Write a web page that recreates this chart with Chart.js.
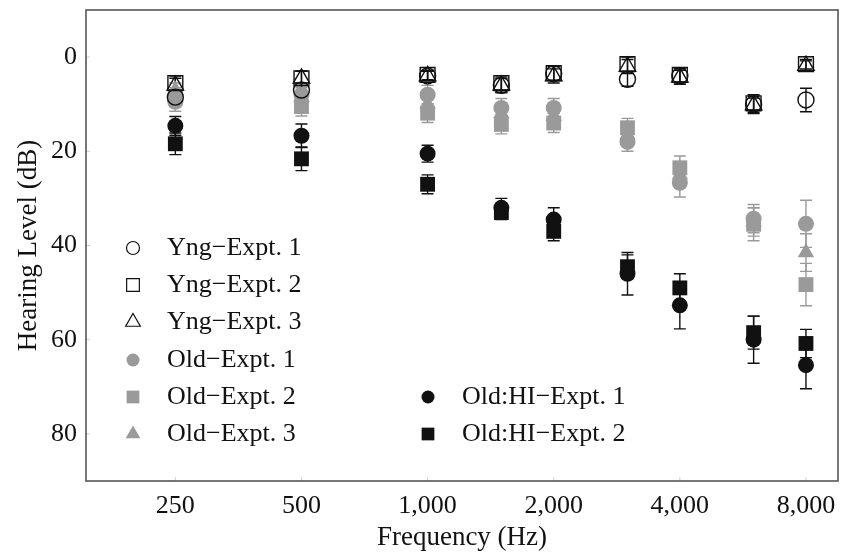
<!DOCTYPE html>
<html>
<head>
<meta charset="utf-8">
<script src="https://cdn.jsdelivr.net/npm/chart.js@4.4.1/dist/chart.umd.min.js"></script>
<style>
  html, body { margin: 0; padding: 0; background: #fff; }
  #wrap { width: 842px; height: 555px; }
</style>
</head>
<body>
<div id="wrap"><canvas id="hlChart" width="842" height="555"></canvas></div>
<script>
// frequencies (Hz) and tick labels
const freqs = [250, 500, 1000, 1500, 2000, 3000, 4000, 6000, 8000];
const xTickVals = [250, 500, 1000, 2000, 4000, 8000];
const yTickVals = [0, 20, 40, 60, 80];

// mean hearing levels (dB HL)
const yng1 = [8.5, 7, 4, 6, 3.5, 4.7, 4, 10, 9.1];
const yng2 = [5.5, 4.5, 3.8, 5.5, 3.4, 1.5, 3.8, 9.8, 1.5];
const yng3 = [6, 4.5, 4, 6, 4, 2, 4.3, 10.2, 1.8];
const old1 = [9.5, 8, 8, 10.8, 10.8, 18, 26.7, 34.3, 35.4];
const old2 = [8.5, 10.5, 11.9, 14.3, 14, 15, 23.5, 35.5, 48.3];
const old3 = [7, 8.5, 10, 12, 12.5, 16.5, 25, 35, 41.5];
const hi1 = [14.6, 16.7, 20.5, 32, 34.5, 46, 52.7, 60, 65.4];
const hi2 = [18.4, 21.6, 27, 33, 37, 44.5, 49, 58.5, 60.8];

// error bar half-lengths (dB)
const errYng1 = [1.5, 1.5, 1, 1.5, 1.5, 1.5, 1.5, 2, 2.5];
const errYng2 = [1.5, 1.5, 1, 1.5, 1.5, 1.5, 1.5, 1.5, 1];
const errYng3 = [1.5, 1.5, 1, 1.5, 1.5, 1.5, 1.5, 1.5, 1];
const errOld1 = [2, 2, 2, 2, 2, 2, 3, 3, 5];
const errOld2 = [2, 2, 2, 2, 2, 2, 2.5, 3.5, 4.5];
const errOld3 = [1.5, 2, 2, 2, 2, 2, 2.5, 3, 4];
const errHi1 = [2, 2.5, 1.8, 2, 2.5, 4.5, 5, 5, 5];
const errHi2 = [2.3, 2.5, 2, 1.5, 2, 2.5, 3, 3.5, 3];

const GRAY = '#9a9a9a';
const BLACK = '#111111';
const SERIF = '"Liberation Serif", "Times New Roman", serif';

function pts(vals) {
    return freqs.map(function(f, i) { return { x: f, y: vals[i] }; });
}

function series(label, vals, errs, style, color, open) {
    const radius = style === 'rect' ? 10.5 : (style === 'triangle' ? 9.5 : 8);
    return {
        label: label,
        data: pts(vals),
        errors: errs,
        pointStyle: style,
        pointRadius: radius,
        pointHoverRadius: radius,
        pointBackgroundColor: open ? 'rgba(0,0,0,0)' : color,
        pointBorderColor: color,
        pointBorderWidth: open ? 1.4 : 0,
        borderColor: color,
        backgroundColor: color,
        showLine: false,
        open: open
    };
}

// error bars, drawn under the markers
const errorBars = {
    id: 'errorBars',
    beforeDatasetsDraw(chart) {
        const ctx = chart.ctx;
        const xs = chart.scales.x, ys = chart.scales.y;
        ctx.save();
        chart.data.datasets.slice().reverse().forEach(function(ds) {
            ctx.strokeStyle = ds.borderColor;
            ctx.lineWidth = 1.4;
            ds.data.forEach(function(p, i) {
                const e = ds.errors[i];
                const px = xs.getPixelForValue(p.x);
                const y1 = ys.getPixelForValue(p.y - e);
                const y2 = ys.getPixelForValue(p.y + e);
                ctx.beginPath();
                ctx.moveTo(px, y1); ctx.lineTo(px, y2);
                ctx.moveTo(px - 6, y1); ctx.lineTo(px + 6, y1);
                ctx.moveTo(px - 6, y2); ctx.lineTo(px + 6, y2);
                ctx.stroke();
            });
        });
        ctx.restore();
    }
};

// box round the plot area plus small inward ticks
const frameBox = {
    id: 'frameBox',
    afterDraw(chart) {
        const a = chart.chartArea;
        const ctx = chart.ctx;
        ctx.save();
        ctx.strokeStyle = '#cfcfcf';
        ctx.lineWidth = 1;
        xTickVals.forEach(function(v) {
            const px = chart.scales.x.getPixelForValue(v);
            ctx.beginPath(); ctx.moveTo(px, a.bottom); ctx.lineTo(px, a.bottom - 4); ctx.stroke();
        });
        yTickVals.forEach(function(v) {
            const py = chart.scales.y.getPixelForValue(v);
            ctx.beginPath(); ctx.moveTo(a.left, py); ctx.lineTo(a.left + 4, py); ctx.stroke();
        });
        ctx.strokeStyle = '#555';
        ctx.lineWidth = 1.6;
        ctx.strokeRect(a.left, a.top, a.right - a.left, a.bottom - a.top);
        ctx.restore();
    }
};

// legend inside the plot, two columns like the figure
const legendBox = {
    id: 'legendBox',
    afterDraw(chart) {
        const ctx = chart.ctx;
        const entries = [
            { ds: 0, x: 133, y: 248 }, { ds: 1, x: 133, y: 285 }, { ds: 2, x: 133, y: 322 },
            { ds: 3, x: 133, y: 360 }, { ds: 4, x: 133, y: 397 }, { ds: 5, x: 133, y: 434 },
            { ds: 6, x: 428, y: 397 }, { ds: 7, x: 428, y: 434 }
        ];
        ctx.save();
        entries.forEach(function(en) {
            const ds = chart.data.datasets[en.ds];
            const r = ds.pointStyle === 'rect' ? 9 : (ds.pointStyle === 'triangle' ? 8.5 : 6.5);
            ctx.fillStyle = ds.pointBackgroundColor;
            ctx.strokeStyle = ds.pointBorderColor;
            ctx.lineWidth = 1.2;
            ctx.beginPath();
            if (ds.pointStyle === 'circle') {
                ctx.arc(en.x, en.y, r, 0, Math.PI * 2);
            } else if (ds.pointStyle === 'rect') {
                const s = r * Math.SQRT1_2;
                ctx.rect(en.x - s, en.y - s, 2 * s, 2 * s);
            } else {
                ctx.moveTo(en.x, en.y - r);
                ctx.lineTo(en.x + r * 0.866, en.y + r * 0.5);
                ctx.lineTo(en.x - r * 0.866, en.y + r * 0.5);
                ctx.closePath();
            }
            if (ds.open) ctx.stroke(); else ctx.fill();
            ctx.fillStyle = '#111';
            ctx.font = '26px ' + SERIF;
            ctx.textBaseline = 'middle';
            ctx.fillText(ds.label, en.x + 34, en.y);
        });
        ctx.restore();
    }
};

new Chart(document.getElementById('hlChart'), {
    type: 'scatter',
    data: {
        datasets: [
            series('Yng\u2212Expt. 1', yng1, errYng1, 'circle', BLACK, true),
            series('Yng\u2212Expt. 2', yng2, errYng2, 'rect', BLACK, true),
            series('Yng\u2212Expt. 3', yng3, errYng3, 'triangle', BLACK, true),
            series('Old\u2212Expt. 1', old1, errOld1, 'circle', GRAY, false),
            series('Old\u2212Expt. 2', old2, errOld2, 'rect', GRAY, false),
            series('Old\u2212Expt. 3', old3, errOld3, 'triangle', GRAY, false),
            series('Old:HI\u2212Expt. 1', hi1, errHi1, 'circle', BLACK, false),
            series('Old:HI\u2212Expt. 2', hi2, errHi2, 'rect', BLACK, false)
        ]
    },
    options: {
        responsive: false,
        animation: false,
        layout: { autoPadding: false, padding: { top: 10, right: 4, left: 0, bottom: 0 } },
        scales: {
            x: {
                type: 'logarithmic',
                min: 153,
                max: 9540,
                afterBuildTicks: function(scale) {
                    scale.ticks = xTickVals.map(function(v) { return { value: v }; });
                },
                afterFit: function(scale) {
                    scale.height = 74;
                    scale.paddingLeft = 0;
                    scale.paddingRight = 0;
                },
                ticks: {
                    autoSkip: false,
                    maxRotation: 0,
                    padding: 10,
                    color: '#111',
                    font: { family: SERIF, size: 26 },
                    callback: function(v) { return Number(v).toLocaleString('en-US'); }
                },
                grid: { display: false, drawTicks: false },
                border: { display: false },
                title: {
                    display: true,
                    text: 'Frequency (Hz)',
                    color: '#111',
                    font: { family: SERIF, size: 27 },
                    padding: { top: 0, bottom: 1 }
                }
            },
            y: {
                reverse: true,
                min: -10,
                max: 90,
                afterBuildTicks: function(scale) {
                    scale.ticks = yTickVals.map(function(v) { return { value: v }; });
                },
                afterFit: function(scale) {
                    scale.width = 86;
                    scale.paddingTop = 0;
                    scale.paddingBottom = 0;
                },
                ticks: {
                    padding: 9,
                    color: '#111',
                    font: { family: SERIF, size: 26 }
                },
                grid: { display: false, drawTicks: false },
                border: { display: false },
                title: {
                    display: true,
                    text: 'Hearing Level (dB)',
                    color: '#111',
                    font: { family: SERIF, size: 27 },
                    padding: { top: 13, bottom: 0 }
                }
            }
        },
        plugins: {
            legend: { display: false },
            tooltip: { enabled: false }
        }
    },
    plugins: [errorBars, frameBox, legendBox]
});
</script>
</body>
</html>
